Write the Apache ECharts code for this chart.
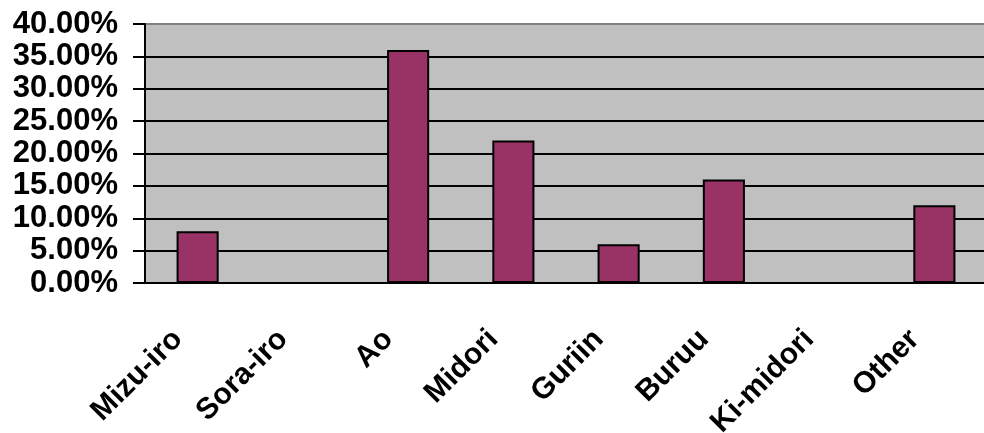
<!DOCTYPE html>
<html>
<head>
<meta charset="utf-8">
<script src="https://cdn.jsdelivr.net/npm/echarts@6/dist/echarts.min.js"></script>
<style>
  html, body { margin: 0; padding: 0; background: #fff; }
  #chart { width: 984px; height: 433px; }
</style>
</head>
<body>
<div id="chart"></div>
<script>
// categories and shares (percent)
var categories = ["Mizu-iro", "Sora-iro", "Ao", "Midori", "Guriin", "Buruu", "Ki-midori", "Other"];
var shares = [8, 0, 36, 22, 6, 16, 0, 12];

var myChart = echarts.init(document.getElementById("chart"));

var option = {
  animation: false,
  grid: {
    left: 145,
    right: -3,
    top: 24,
    bottom: 150,
    containLabel: false,
    outerBoundsMode: "none",
    show: true,
    backgroundColor: "#C0C0C0",
    borderWidth: 0
  },
  xAxis: {
    type: "category",
    data: categories,
    axisLine: { lineStyle: { color: "#000", width: 2 } },
    axisTick: { length: 10, lineStyle: { color: "#000", width: 2 } },
    axisLabel: {
      rotate: 45,
      margin: 32,
      padding: [0, 28, 0, 0],
      color: "#000",
      fontFamily: "Liberation Sans, Arial, sans-serif",
      fontWeight: "bold",
      fontSize: 30,
      interval: 0
    },
    splitLine: { show: false }
  },
  yAxis: {
    type: "value",
    min: 0,
    max: 40,
    interval: 5,
    axisLine: { show: true, lineStyle: { color: "#000", width: 2 } },
    axisTick: { show: true, length: 12, lineStyle: { color: "#000", width: 2 } },
    axisLabel: {
      margin: 27,
      color: "#000",
      fontFamily: "Liberation Sans, Arial, sans-serif",
      fontWeight: "bold",
      fontSize: 31,
      formatter: function (v) { return v.toFixed(2) + "%"; }
    },
    splitLine: {
      show: true,
      lineStyle: {
        // top line of the plot is grey, the rest black
        color: ["#000", "#000", "#000", "#000", "#000", "#000", "#000", "#000", "#808080"],
        width: 2
      }
    }
  },
  series: [
    {
      type: "bar",
      // empty categories get no outline
      data: shares.map(function (v) {
        return v === 0 ? { value: v, itemStyle: { borderWidth: 0 } } : v;
      }),
      barWidth: "40%",
      itemStyle: {
        color: "#993366",
        borderColor: "#000",
        borderWidth: 2
      }
    }
  ]
};

myChart.setOption(option);
</script>
</body>
</html>
